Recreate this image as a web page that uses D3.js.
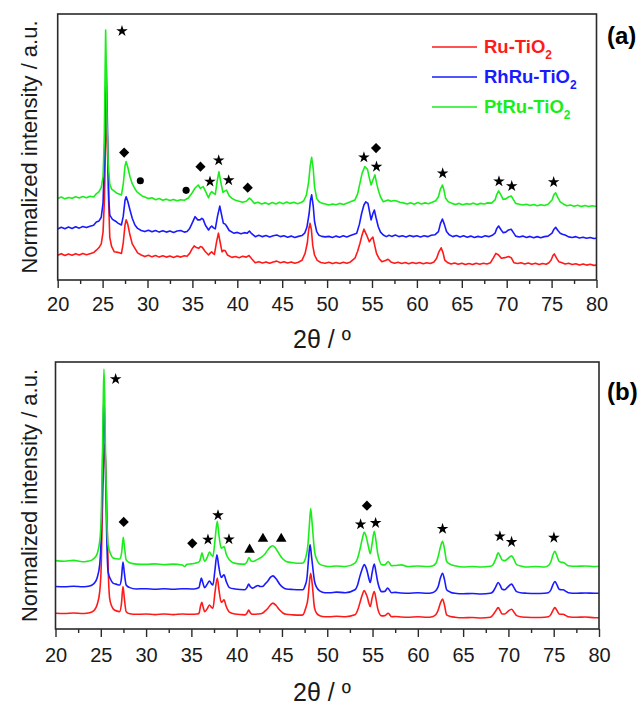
<!DOCTYPE html>
<html lang="en">
  <head>
    <meta charset="UTF-8" />
    <title>XRD patterns</title>
    <script src="https://cdn.jsdelivr.net/npm/d3@7"></script>
    <style>
      body { margin: 0; background: #fff; }
      svg { display: block; font-family: Arial, "Liberation Sans", sans-serif; }
    </style>
  </head>
  <body>
    <svg width="643" height="710"></svg>
    <script>
      // 2theta in degrees, intensity in a.u. (0-100 over the frame height, curves stacked)
      const ruA = [[20.0,9.3],[20.4,9.9],[20.8,9.2],[21.2,9.8],[21.6,9.3],[22.0,9.9],[22.4,9.4],[22.8,10.0],[23.2,9.5],[23.6,9.9],[24.0,10.3],[24.3,11.2],[24.6,12.2],[24.85,13.6],[25.05,18],[25.2,30],[25.33,50],[25.45,63.9],[25.55,50],[25.65,32],[25.8,16],[26.0,12.6],[26.3,10.6],[26.7,10.4],[27.1,10.0],[27.3,14],[27.5,20.8],[27.62,22.6],[27.8,21.0],[28.05,16.9],[28.3,13.6],[28.6,11.9],[28.9,10.2],[29.3,9.4],[29.7,8.8],[30.1,9.3],[30.5,8.7],[30.9,9.2],[31.3,8.6],[31.7,9.1],[32.1,8.6],[32.5,9.0],[32.9,8.5],[33.3,9.0],[33.7,8.6],[34.1,9.1],[34.4,8.9],[34.7,10.0],[34.95,11.6],[35.2,12.8],[35.45,12.2],[35.7,11.9],[35.9,12.6],[36.1,12.3],[36.4,10.8],[36.8,9.4],[37.0,10.2],[37.15,10.6],[37.3,10.0],[37.45,9.6],[37.7,14.5],[37.9,17.6],[38.1,14.0],[38.3,10.6],[38.5,11.2],[38.65,11.0],[38.9,9.4],[39.4,8.5],[39.8,8.8],[40.2,8.4],[40.6,8.9],[41.0,8.6],[41.3,9.2],[41.6,8.0],[42.0,6.5],[42.4,6.9],[42.8,6.4],[43.2,6.8],[43.6,6.3],[44.0,6.8],[44.4,7.1],[44.8,6.5],[45.2,6.9],[45.6,6.4],[46.0,6.8],[46.4,6.3],[46.8,6.7],[47.2,7.4],[47.55,10.0],[47.8,14],[47.95,19],[48.1,21.3],[48.25,19],[48.4,13],[48.6,9.4],[48.9,7.4],[49.3,6.6],[49.77,6.3],[50.2,6.7],[50.6,6.2],[51.0,6.6],[51.4,6.2],[51.8,6.7],[52.2,6.3],[52.6,6.8],[53.1,8.2],[53.4,10.8],[53.66,13.8],[53.9,17.0],[54.1,19.1],[54.4,16.9],[54.7,14.4],[54.9,15.4],[55.1,16.1],[55.3,13.0],[55.5,10.0],[55.8,8.0],[56.1,6.9],[56.5,7.3],[56.8,7.8],[57.1,6.8],[57.5,6.3],[57.9,6.7],[58.3,6.2],[58.7,6.6],[59.1,6.1],[59.5,6.6],[59.9,6.2],[60.3,6.6],[60.7,6.1],[61.1,6.5],[61.5,6.2],[61.9,6.8],[62.2,8.2],[62.45,10.6],[62.7,12.1],[62.9,10.4],[63.1,7.5],[63.4,6.6],[63.8,6.0],[64.2,6.4],[64.6,5.9],[65.0,6.3],[65.4,5.8],[65.8,6.2],[66.2,5.8],[66.6,6.3],[67.0,5.9],[67.4,6.3],[67.8,6.0],[68.2,6.5],[68.5,8.2],[68.8,10.0],[69.1,9.4],[69.4,8.2],[69.8,8.4],[70.2,8.8],[70.5,8.4],[70.8,6.5],[71.2,6.2],[71.6,6.5],[72.0,6.0],[72.4,6.4],[72.8,5.9],[73.2,6.3],[73.6,5.8],[74.0,6.2],[74.4,5.9],[74.7,6.5],[74.95,7.5],[75.15,9.2],[75.3,9.8],[75.55,8.2],[75.8,6.9],[76.1,6.6],[76.5,6.0],[76.9,6.3],[77.3,5.8],[77.7,6.1],[78.1,5.6],[78.5,6.0],[78.9,5.6],[79.3,5.9],[79.7,5.5],[80.0,5.6]];
      const rhruA = [[20.0,19.2],[20.4,19.8],[20.8,19.3],[21.2,19.9],[21.6,19.4],[22.0,20.0],[22.4,19.5],[22.8,20.1],[23.2,19.7],[23.6,20.2],[24.0,20.6],[24.3,21.8],[24.6,22.2],[24.85,23.6],[25.05,29],[25.2,45],[25.3,66],[25.4,81.6],[25.5,66],[25.6,45],[25.7,30],[25.8,24.4],[26.1,22.8],[26.4,22.2],[26.75,21.3],[27.1,20.7],[27.3,24],[27.5,30],[27.62,31.3],[27.8,29.6],[28.05,26.3],[28.3,23.2],[28.6,20.7],[28.9,19.4],[29.3,18.6],[29.7,18.2],[30.1,18.7],[30.5,18.1],[30.9,18.6],[31.3,18.0],[31.7,18.5],[32.1,18.0],[32.5,18.4],[32.9,17.9],[33.3,18.4],[33.7,18.6],[34.1,18.0],[34.4,18.2],[34.7,19.4],[35.0,21.6],[35.3,23.8],[35.6,22.6],[35.85,22.6],[36.05,23.2],[36.2,22.8],[36.45,20.6],[36.8,18.8],[37.0,19.8],[37.15,20.3],[37.35,19.6],[37.55,19.2],[37.8,24],[38.05,27.8],[38.25,24.5],[38.45,21.3],[38.65,21.0],[38.8,20.3],[39.1,18.6],[39.6,17.6],[40.0,17.9],[40.4,17.4],[40.8,17.8],[41.1,17.6],[41.35,18.4],[41.6,17.4],[42.0,16.3],[42.4,16.8],[42.8,16.3],[43.2,16.7],[43.6,16.2],[44.0,16.6],[44.4,16.9],[44.8,16.3],[45.2,16.6],[45.6,16.1],[46.0,16.5],[46.4,16.0],[46.8,16.4],[47.2,16.7],[47.5,17.6],[47.75,19.8],[48.0,25],[48.15,30],[48.28,32.0],[48.45,28],[48.6,22],[48.84,18.2],[49.1,16.8],[49.4,16.4],[49.8,16.2],[50.2,16.4],[50.6,16.0],[51.0,16.5],[51.4,16.1],[51.8,16.6],[52.2,16.2],[52.6,16.7],[53.0,17.2],[53.3,17.6],[53.6,21.0],[53.85,25.1],[54.1,28.2],[54.3,29.4],[54.55,28.8],[54.75,25.2],[54.9,22.6],[55.1,25.0],[55.26,26.3],[55.45,23.4],[55.7,20.0],[55.95,18.0],[56.26,16.9],[56.6,16.3],[56.9,16.8],[57.2,16.4],[57.6,16.9],[58.0,16.3],[58.4,16.6],[58.8,16.2],[59.2,16.7],[59.6,16.3],[60.0,16.6],[60.4,16.2],[60.8,16.6],[61.2,16.3],[61.6,16.8],[62.0,17.0],[62.4,18.2],[62.62,21.2],[62.84,22.9],[63.05,21.0],[63.3,18.2],[63.6,17.0],[64.0,16.3],[64.4,16.7],[64.8,16.2],[65.2,16.6],[65.6,16.1],[66.0,16.5],[66.4,16.0],[66.8,16.4],[67.2,16.1],[67.6,16.6],[68.0,16.3],[68.4,16.8],[68.7,17.6],[68.9,19.4],[69.1,20.3],[69.35,19.0],[69.6,17.8],[69.9,18.0],[70.2,18.8],[70.5,19.1],[70.75,17.8],[71.0,16.5],[71.4,16.2],[71.8,16.5],[72.2,16.0],[72.6,16.4],[73.0,15.9],[73.4,16.3],[73.8,15.9],[74.2,16.3],[74.6,16.5],[75.05,17.6],[75.25,19.0],[75.45,19.8],[75.7,18.6],[75.96,17.6],[76.2,17.2],[76.5,16.9],[76.9,16.2],[77.3,16.0],[77.7,16.3],[78.1,15.8],[78.5,16.1],[78.9,15.7],[79.3,16.0],[79.7,15.6],[80.0,15.7]];
      const ptruA = [[20.0,30.6],[20.4,31.2],[20.8,30.5],[21.2,31.0],[21.6,30.7],[22.0,31.3],[22.4,30.8],[22.8,31.4],[23.2,30.9],[23.6,31.5],[24.0,31.2],[24.3,32.4],[24.6,33.2],[24.85,34.8],[25.05,39],[25.18,52],[25.27,76],[25.34,94],[25.42,78],[25.5,58],[25.62,44],[25.8,36],[26.0,34.2],[26.3,33.4],[26.6,32.6],[26.9,32.2],[27.1,32.0],[27.3,36],[27.5,43],[27.62,44.5],[27.8,42.5],[28.05,38.8],[28.3,36.2],[28.55,34.6],[28.8,33.2],[29.1,32.4],[29.4,31.6],[29.7,31.2],[30.1,30.6],[30.5,30.9],[30.9,30.2],[31.3,30.6],[31.7,30.0],[32.1,30.4],[32.5,29.9],[32.9,30.3],[33.3,29.8],[33.7,30.2],[34.1,30.0],[34.55,30.8],[34.9,32.4],[35.3,34.6],[35.65,35.7],[35.9,34.4],[36.05,34.8],[36.2,35.1],[36.45,33.4],[36.8,30.9],[37.0,32.6],[37.15,33.2],[37.35,32.6],[37.55,32.2],[37.75,37],[37.95,40.7],[38.15,37],[38.4,33.0],[38.6,33.4],[38.8,33.8],[39.1,31.6],[39.4,30.7],[39.8,30.0],[40.2,29.6],[40.6,29.2],[41.0,29.6],[41.35,30.8],[41.6,30.0],[41.9,28.8],[42.3,29.2],[42.7,28.6],[43.1,29.0],[43.5,28.5],[43.9,29.1],[44.3,28.6],[44.7,29.2],[45.1,28.7],[45.5,29.3],[45.9,28.8],[46.3,29.2],[46.7,28.7],[47.1,29.1],[47.4,29.8],[47.7,32.0],[47.95,37],[48.12,43],[48.28,46.1],[48.45,42],[48.6,35],[48.84,30.7],[49.1,29.4],[49.4,28.9],[49.8,28.6],[50.2,28.2],[50.6,28.6],[51.0,28.3],[51.4,28.8],[51.8,28.4],[52.2,28.9],[52.6,29.4],[53.1,30.1],[53.4,32.4],[53.66,36.4],[53.9,40.2],[54.2,42.6],[54.5,41.6],[54.7,38.4],[54.9,35.7],[55.12,37.8],[55.33,39.5],[55.5,36.6],[55.7,33.8],[55.95,31.2],[56.26,29.4],[56.55,29.8],[56.8,30.1],[57.1,29.6],[57.45,29.9],[57.75,29.7],[58.1,29.2],[58.5,29.0],[58.9,28.6],[59.3,29.0],[59.7,28.5],[60.1,29.1],[60.5,28.6],[60.9,29.0],[61.3,28.7],[61.7,29.2],[62.1,29.8],[62.4,31.3],[62.62,34.2],[62.84,35.7],[63.0,34],[63.2,30.7],[63.5,29.4],[63.9,28.8],[64.3,28.4],[64.7,28.8],[65.1,28.3],[65.5,28.7],[65.9,28.5],[66.3,28.9],[66.7,28.4],[67.1,28.8],[67.5,28.6],[67.9,29.0],[68.3,28.9],[68.7,30.1],[68.9,32.2],[69.1,33.5],[69.35,32.0],[69.6,30.3],[69.9,30.5],[70.2,31.2],[70.5,31.6],[70.75,30.2],[71.0,28.8],[71.4,28.5],[71.8,28.2],[72.2,28.5],[72.6,28.0],[73.0,28.4],[73.4,27.9],[73.8,28.3],[74.2,28.0],[74.6,28.5],[75.05,30.1],[75.25,32.0],[75.45,32.8],[75.7,31.0],[75.96,29.4],[76.3,28.6],[76.7,27.9],[77.1,28.2],[77.5,27.7],[77.9,28.1],[78.3,27.6],[78.7,28.0],[79.1,27.6],[79.5,27.9],[80.0,27.6]];

      const ruB = [[20.0,5.9],[21.0,5.8],[22.0,6.0],[23.0,5.8],[23.4,5.9],[24.0,6.4],[24.3,7.1],[24.6,9.2],[24.88,14.0],[25.05,24],[25.17,42.9],[25.3,60],[25.43,69.2],[25.55,60],[25.68,42.9],[25.82,22],[25.98,11.5],[26.2,8.6],[26.5,7.1],[27.08,6.5],[27.28,9.5],[27.45,15.9],[27.6,11.5],[27.8,6.5],[28.2,5.7],[28.9,5.5],[30,5.6],[31,5.4],[32,5.6],[33,5.4],[34,5.6],[35,5.5],[35.6,5.6],[35.84,5.9],[36.0,8.4],[36.15,10.0],[36.3,8.2],[36.47,6.5],[36.75,7.6],[37.0,9.0],[37.2,8.2],[37.38,7.8],[37.6,13.5],[37.86,19.1],[38.05,14.5],[38.3,10.0],[38.45,10.4],[38.6,10.9],[38.85,8.4],[39.2,6.3],[39.8,5.6],[40.9,5.3],[41.15,6.0],[41.33,7.1],[41.52,6.0],[41.75,5.5],[42.3,5.6],[42.83,5.9],[43.15,6.8],[43.45,7.8],[43.75,9.1],[44.0,9.7],[44.35,8.8],[44.75,7.1],[45.1,6.0],[45.47,5.5],[46.2,5.3],[47.0,5.2],[47.3,5.3],[47.6,7.6],[47.87,11.5],[48.02,17],[48.17,20.9],[48.32,17.5],[48.6,7.8],[48.85,5.8],[49.16,5.0],[49.75,4.6],[50.26,4.6],[51,4.8],[52,4.6],[53.06,5.3],[53.35,7.0],[53.6,9.7],[53.85,12.6],[54.08,14.4],[54.28,13.2],[54.46,11.5],[54.6,9.6],[54.75,8.4],[54.95,11.5],[55.19,14.0],[55.38,11.2],[55.56,7.8],[55.75,5.8],[56.0,4.9],[56.35,5.0],[56.73,5.9],[57.1,4.6],[57.5,4.7],[58.2,4.5],[58.9,4.4],[60,4.6],[61,4.4],[61.6,4.6],[62.0,5.4],[62.25,7.1],[62.5,9.8],[62.73,11.2],[62.95,8.8],[63.18,5.3],[63.6,4.7],[64.1,4.4],[65,4.2],[66,4.3],[67,4.1],[68.0,4.4],[68.3,5.3],[68.6,6.8],[68.87,8.0],[69.1,6.8],[69.3,5.6],[69.6,5.6],[69.95,6.6],[70.35,7.4],[70.6,6.4],[70.9,5.0],[71.5,4.5],[72,4.4],[73,4.3],[74,4.4],[74.4,4.6],[74.7,5.5],[74.92,7.0],[75.13,8.0],[75.35,7.0],[75.6,5.6],[75.85,5.5],[76.05,5.5],[76.3,5.1],[76.6,4.6],[77.5,4.4],[78.5,4.5],[79.55,4.2],[80,4.2]];
      const rhruB = [[20.0,15.9],[21.0,15.8],[22.0,16.0],[23.0,15.8],[23.4,15.9],[24.0,16.4],[24.3,17.2],[24.6,19.2],[24.88,24.1],[25.05,35],[25.17,55.4],[25.27,76],[25.35,86.8],[25.44,76],[25.54,55.4],[25.66,34],[25.8,21.5],[26.05,18.8],[26.35,17.2],[26.7,16.8],[27.08,16.5],[27.28,19],[27.45,25.1],[27.6,21.0],[27.8,16.5],[28.2,15.5],[28.9,15.0],[30,15.1],[31,14.9],[32,15.1],[33,14.9],[34,15.1],[35,15.0],[35.6,15.2],[35.84,15.5],[35.98,17.5],[36.1,19.1],[36.25,17.5],[36.47,15.5],[36.75,16.8],[37.0,18.0],[37.2,17.0],[37.38,16.5],[37.6,22],[37.82,27.8],[38.02,23.5],[38.3,19.3],[38.45,19.8],[38.6,20.3],[38.85,17.8],[39.2,15.5],[39.8,15.0],[40.9,14.7],[41.15,15.6],[41.33,16.8],[41.52,15.8],[41.75,15.3],[42.05,15.8],[42.35,16.3],[42.6,15.9],[42.83,15.9],[43.15,16.9],[43.45,18.0],[43.75,19.4],[44.0,19.9],[44.35,18.8],[44.75,16.8],[45.1,15.6],[45.47,15.0],[46.2,14.8],[47.0,14.7],[47.3,14.7],[47.55,16.2],[47.76,19.1],[47.93,26],[48.1,31.6],[48.27,27],[48.6,17.8],[48.85,15.5],[49.16,14.3],[49.75,13.6],[50.26,13.6],[51,13.8],[52,13.6],[53.06,14.7],[53.35,16.5],[53.6,19.7],[53.85,22.4],[54.08,24.1],[54.3,22.8],[54.46,20.9],[54.6,18.8],[54.75,17.4],[54.95,21],[55.19,24.3],[55.38,21.2],[55.56,17.8],[55.75,15.4],[56.0,14.0],[56.35,14.1],[56.67,15.3],[57.1,13.6],[57.5,13.7],[58.2,13.5],[58.9,13.4],[60,13.6],[61,13.4],[61.6,13.6],[62.0,14.4],[62.25,15.9],[62.5,19.2],[62.73,20.9],[62.95,18.4],[63.18,14.7],[63.6,13.8],[64.1,13.4],[65,13.2],[66,13.3],[67,13.1],[68.0,13.4],[68.3,14.0],[68.6,15.8],[68.87,17.4],[69.1,16.3],[69.3,14.9],[69.6,14.7],[69.95,15.8],[70.35,16.8],[70.6,15.6],[70.9,14.0],[71.5,13.5],[72,13.4],[73,13.3],[74,13.4],[74.4,13.6],[74.7,14.7],[74.92,16.6],[75.13,17.8],[75.35,16.6],[75.6,14.9],[75.85,14.7],[76.05,14.7],[76.3,14.2],[76.6,13.6],[77.5,13.4],[78.5,13.5],[79.55,13.4],[80,13.4]];
      const ptruB = [[20.0,25.6],[21.0,25.4],[22.0,25.7],[23.0,25.2],[23.4,25.3],[24.0,25.8],[24.3,26.6],[24.6,28.2],[24.88,32.8],[25.05,42],[25.17,61.7],[25.27,85],[25.35,97.4],[25.44,85],[25.54,61.7],[25.66,42],[25.8,31.6],[26.05,28.4],[26.35,26.6],[26.7,26.3],[27.08,26.2],[27.3,28.6],[27.48,34.3],[27.62,30.5],[27.8,25.9],[28.2,24.8],[28.9,24.3],[30,24.2],[31,24.4],[32,24.1],[33,24.3],[34.0,24.0],[34.25,23.4],[34.5,24.2],[35.0,24.4],[35.6,24.8],[35.9,25.3],[36.05,27],[36.17,28.5],[36.3,27],[36.47,25.3],[36.75,26.8],[37.0,28.8],[37.2,27.8],[37.38,27.2],[37.6,33],[37.86,40.3],[38.05,35],[38.3,30.3],[38.45,30.5],[38.6,30.9],[38.85,28],[39.2,25.9],[39.6,24.8],[40.2,24.4],[40.9,24.3],[41.15,25.2],[41.36,26.8],[41.55,25.6],[41.8,25.3],[42.2,25.9],[42.7,26.8],[43.1,28.0],[43.45,29.7],[43.75,30.8],[44.0,31.2],[44.35,30.0],[44.75,27.8],[45.1,26.2],[45.47,25.3],[46.2,24.8],[47.0,24.6],[47.3,24.7],[47.6,26.5],[47.87,31.6],[48.03,39],[48.17,45.1],[48.32,40],[48.6,29.1],[48.85,26],[49.16,24.3],[49.75,23.6],[50.26,23.4],[51,23.6],[52,23.4],[53.06,24.7],[53.35,26.5],[53.6,29.7],[53.85,33.5],[54.08,36.2],[54.3,34.6],[54.46,32.2],[54.6,30],[54.75,28.2],[54.95,32],[55.19,36.6],[55.38,33],[55.56,28.5],[55.75,25.8],[56.0,24.1],[56.35,24.0],[56.73,25.3],[57.1,23.7],[57.5,23.8],[58.2,24.0],[58.9,23.4],[60,23.6],[61,23.4],[61.6,23.6],[62.0,24.6],[62.25,27.2],[62.5,30.8],[62.73,32.8],[62.95,29.8],[63.18,25.3],[63.6,24.2],[64.1,23.7],[65,23.2],[66,23.4],[67,23.2],[68.0,23.5],[68.3,24.1],[68.6,26.2],[68.87,28.5],[69.1,27.2],[69.3,25.9],[69.6,25.6],[69.95,26.4],[70.35,27.4],[70.6,26.2],[70.9,24.1],[71.5,23.5],[72,23.2],[73,23.4],[74,23.2],[74.4,23.7],[74.7,25.3],[74.92,27.8],[75.13,29.1],[75.35,27.4],[75.6,25.3],[75.85,25.0],[76.05,24.9],[76.3,24.4],[76.6,23.7],[77.5,23.5],[78.5,23.6],[79.55,23.4],[80,23.5]];

      // phase markers: [type, 2theta, a.u.]
      const markersA = [["star",27.16,93.6],["diamond",27.4,47.9],["circle",29.2,37.3],["circle",34.3,33.7],["diamond",35.9,42.6],["star",36.96,37.0],["star",37.93,45.0],["star",39.04,37.5],["diamond",41.16,34.7],["star",54.1,46.1],["diamond",55.45,49.6],["star",55.5,42.6],["star",62.87,40.1],["star",69.14,37.1],["star",70.56,35.3],["star",75.23,36.8]];
      const markersB = [["star",26.64,93.6],["diamond",27.53,40.1],["diamond",35.1,32.1],["star",36.83,33.5],["star",37.94,42.6],["star",39.15,33.6],["triangle",41.43,29.7],["triangle",42.9,33.8],["triangle",44.92,33.8],["star",53.68,39.2],["diamond",54.38,46.2],["star",55.34,39.7],["star",62.73,37.5],["star",69.06,34.7],["star",70.35,32.6],["star",75.02,34.2]];

      const majorTicks = [20,25,30,35,40,45,50,55,60,65,70,75,80];
      const minorTicks = [22.5,27.5,32.5,37.5,42.5,47.5,52.5,57.5,62.5,67.5,72.5,77.5];
      const seriesNames = ["Ru-TiO", "RhRu-TiO", "PtRu-TiO"];
      const seriesColors = ["#ff1a1a", "#1a1aff", "#1aee1a"];

      const svg = d3.select("svg");
      const font = "Arial, 'Liberation Sans', sans-serif";

      const symbols = {
        star: d3.symbol().type(d3.symbolStar).size(42),
        diamond: d3.symbol().type(d3.symbolSquare).size(52),
        circle: d3.symbol().type(d3.symbolCircle).size(40),
        triangle: d3.symbol().type(d3.symbolTriangle).size(48)
      };

      function drawPanel(p) {
        const x = d3.scaleLinear().domain([20, 80]).range([p.left, p.right]);
        const y = d3.scaleLinear().domain([0, 100]).range([p.bottom, p.top]);
        const g = svg.append("g");

        const line = d3.line()
          .x(d => x(d[0]))
          .y(d => y(d[1]))
          .curve(p.curve);

        p.series.forEach((s, i) => {
          g.append("path")
            .attr("d", line(s))
            .attr("fill", "none")
            .attr("stroke", seriesColors[i])
            .attr("stroke-width", 1.6)
            .attr("stroke-linejoin", "round");
        });

        // frame
        g.append("rect")
          .attr("x", p.left).attr("y", p.top)
          .attr("width", p.right - p.left).attr("height", p.bottom - p.top)
          .attr("fill", "none").attr("stroke", "#2a2a2a").attr("stroke-width", 1.6);

        const major = g.append("g")
          .attr("transform", `translate(0,${p.bottom})`)
          .call(d3.axisBottom(x).tickValues(majorTicks).tickSize(8).tickPadding(p.pad).tickSizeOuter(0));
        const minor = g.append("g")
          .attr("transform", `translate(0,${p.bottom})`)
          .call(d3.axisBottom(x).tickValues(minorTicks).tickSize(4).tickFormat(""));
        [major, minor].forEach(a => {
          a.select(".domain").remove();
          a.selectAll("line").attr("stroke", "#2a2a2a").attr("stroke-width", 1.4);
        });
        major.selectAll("text")
          .attr("font-family", font).attr("font-size", 20).attr("fill", "#1a1a1a");

        g.selectAll(".mark")
          .data(p.markers)
          .join("path")
          .attr("class", "mark")
          .attr("d", d => symbols[d[0]]())
          .attr("transform", d => `translate(${x(d[1])},${y(d[2])})` + (d[0] === "diamond" ? " rotate(45)" : ""))
          .attr("fill", "#000");

        // axis titles
        g.append("text")
          .attr("transform", `translate(37,${(p.top + p.bottom) / 2}) rotate(-90)`)
          .attr("text-anchor", "middle")
          .attr("font-family", font).attr("font-size", 22).attr("fill", "#1a1a1a")
          .text("Normalized intensity / a.u.");
        g.append("text")
          .attr("x", 322).attr("y", p.xTitleY)
          .attr("text-anchor", "middle")
          .attr("font-family", font).attr("font-size", 25).attr("fill", "#1a1a1a")
          .text("2θ / º");
        g.append("text")
          .attr("x", 607).attr("y", p.tagY)
          .attr("font-family", font).attr("font-size", 24).attr("font-weight", "bold")
          .text(p.tag);
        return g;
      }

      drawPanel({
        left: 57.7, right: 596.5, top: 14, bottom: 280, pad: 8.5,
        series: [ruA, rhruA, ptruA], markers: markersA, curve: d3.curveLinear,
        xTitleY: 348, tag: "(a)", tagY: 44
      });
      drawPanel({
        left: 55.5, right: 599, top: 362, bottom: 629, pad: 11,
        series: [ruB, rhruB, ptruB], markers: markersB, curve: d3.curveMonotoneX,
        xTitleY: 701, tag: "(b)", tagY: 400
      });

      // legend (panel a)
      const legend = svg.append("g");
      seriesNames.forEach((name, i) => {
        const ly = 47 + i * 30;
        legend.append("line")
          .attr("x1", 432).attr("x2", 477).attr("y1", ly).attr("y2", ly)
          .attr("stroke", seriesColors[i]).attr("stroke-width", 1.6);
        const t = legend.append("text")
          .attr("x", 484).attr("y", ly + 6)
          .attr("font-family", font).attr("font-size", 18.5).attr("font-weight", "bold")
          .attr("fill", seriesColors[i]);
        t.append("tspan").text(name);
        t.append("tspan").attr("dy", 6).attr("font-size", 12).text("2");
      });
    </script>
  </body>
</html>
